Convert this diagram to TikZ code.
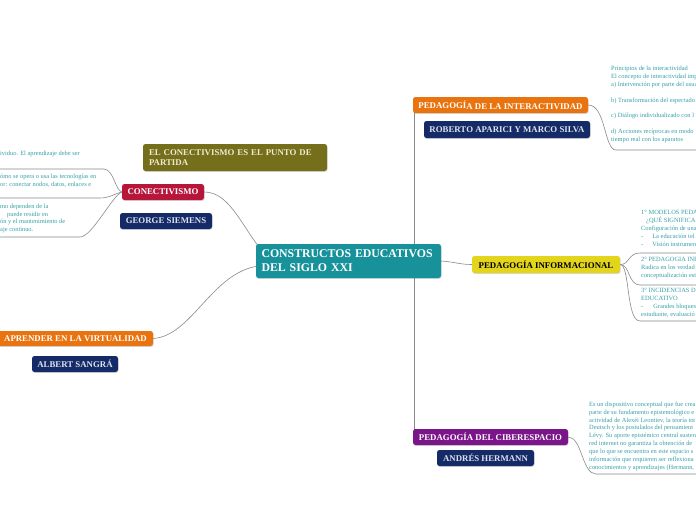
\documentclass[tikz,border=0pt]{standalone}
\usepackage{fontspec}
\setmainfont{Liberation Serif}
\usetikzlibrary{shadows,calc}
\pgfdeclarelayer{bg}
\pgfsetlayers{bg,main}
\definecolor{tealc}{HTML}{17929B}
\definecolor{orng}{HTML}{E8730F}
\definecolor{navy}{HTML}{152B68}
\definecolor{yel}{HTML}{E3D41C}
\definecolor{purp}{HTML}{7A1689}
\definecolor{crim}{HTML}{B7163B}
\definecolor{olive}{HTML}{756E1A}
\definecolor{olivetext}{HTML}{EEEBCF}
\definecolor{notec}{HTML}{35A0A8}
\definecolor{linec}{HTML}{8A8A8A}
\definecolor{navytext}{HTML}{DDE2EE}
\begin{document}
\begin{tikzpicture}[x=1pt,y=-1pt,
  topic/.style={rounded corners=2.5pt, inner sep=0pt,
    font=\bfseries\fontsize{8.8}{10}\selectfont,
    drop shadow={shadow xshift=0.6pt,shadow yshift=-0.9pt,opacity=0.3}},
  navybox/.style={topic, fill=navy, text=navytext},
  conn/.style={draw=linec, line width=0.6pt},
  note/.style={text=notec, font=\fontsize{6.4}{7.9}\selectfont, align=left,
    inner sep=0pt, anchor=north west},
]
\path[use as bounding box] (0,0) rectangle (696,520);
\clip (0,0) rectangle (696,520);

% main topics
\node[topic, fill=tealc, text=white, minimum width=185pt, minimum height=34pt,
  font=\bfseries\fontsize{11.8}{13.8}\selectfont, align=left, text width=174pt]
  (ctr) at (348.5,261) {CONSTRUCTOS EDUCATIVOS\\DEL SIGLO XXI};

\node[topic, fill=orng, text=white, minimum width=175pt, minimum height=16pt]
  (inter) at (500.5,105) {\raisebox{0.7pt}{PEDAGOGÍ}A DE LA INTERACTIVIDAD};
\node[navybox, minimum width=166pt, minimum height=17pt]
  (rob) at (507,129.5) {\raisebox{0.7pt}{ROBERT}O APARICI Y MARCO SILVA};

\node[topic, fill=yel, text=black, minimum width=148pt, minimum height=17pt]
  (inf) at (546,264.5) {PEDAGOGÍA INFORMACIONAL};

\node[topic, fill=purp, text=white, minimum width=155pt, minimum height=16pt]
  (cib) at (490.5,437) {PEDAGOGÍA DEL CIBERESPACIO};
\node[navybox, minimum width=97pt, minimum height=16pt]
  (and) at (485.5,458) {ANDRÉS HERMANN};

\node[topic, fill=crim, text=white, minimum width=82pt, minimum height=16pt]
  (con) at (163,192) {CONECTIVISMO};
\node[navybox, minimum width=92pt, minimum height=16pt]
  (geo) at (166,221) {GEORGE SIEMENS};
\node[topic, fill=olive, text=olivetext, minimum width=184pt, minimum height=27pt,
  align=left, text width=172pt]
  (oli) at (235,157.5) {EL CONECTIVISMO ES EL PUNTO DE\\PARTIDA};

\node[topic, fill=orng, text=white, minimum width=155pt, minimum height=15pt]
  (apr) at (75.5,338.5) {APRENDER EN LA VIRTUALIDAD};
\node[navybox, minimum width=86pt, minimum height=16pt]
  (alb) at (75,364) {ALBERT SANGRÁ};

% notes
\node[note] (ntr) at (611,65.8) {Principios de la interactividad\\
El concepto de interactividad imp\\
a) Intervención por parte del usua\\
\mbox{}\\
b) Transformación del espectado\\
\mbox{}\\
c) Diálogo individualizado con l\\
\mbox{}\\
d) Acciones recíprocas en modo\\
tiempo real con los aparatos};

\node[note] (ni1) at (641,210.5) {1° MODELOS PEDA\\
\hspace*{5pt}¿QUÉ SIGNIFICA\\
Configuración de una\\
-\hspace{9pt}La educación tel\\
-\hspace{9pt}Visión instrumen};
\node[note] (ni2) at (641,257.5) {2° PEDAGOGIA INF\\
Radica en los verdad\\
conceptualización est};
\node[note] (ni3) at (641,288.5) {3° INCIDENCIAS D\\
EDUCATIVO\\
-\hspace{10pt}Grandes bloques\\
estudiante, evaluació};

\node[note] (ncb) at (589,401.5) {Es un dispositivo conceptual que fue crea\\
parte de su fundamento epistemológico e\\
actividad de Alexéi Leontiev, la teoría tot\\
Deutsch y los postulados del pensamient\\
Lévy. Su aporte epistémico central susten\\
red internet no garantiza la obtención de\\
que lo que se encuentra en este espacio s\\
información que requieren ser reflexiona\\
conocimientos y aprendizajes (Hermann,};

\node[note] (nl1) at (0,150.5) {ividuo. El aprendizaje debe ser};
\node[note] (nl2) at (0,173.5) {ómo se opera o usa las tecnologías en\\
or: conectar nodos, datos, enlaces e};
\node[note] (nl3) at (0,203.5) {mo dependen de la\\
\hspace*{7pt}puede residir en\\
ón y el mantenimiento de\\
aje continuo.};

% free ends of note underlines
\coordinate (ul1) at (-5,169);
\coordinate (ul2) at (-5,198);
\coordinate (ul3) at (-5,237);
\coordinate (ur0) at (700,150);
\coordinate (ur1) at (700,253);
\coordinate (ur2) at (700,285);
\coordinate (ur3) at (700,321);
\coordinate (ur4) at (700,474);

\begin{pgfonlayer}{bg}
  \fill[white] (0,0) rectangle (696,520);
  % from central topic
  \draw[conn] (con.east) .. controls (228,192) and (240,222) .. ($(ctr.north west)+(3,3)$);
  \draw[conn] (apr.east) .. controls (192,336) and (212,272) .. ($(ctr.west)+(3,5)$);
  \draw[conn] (ctr.east) .. controls (455,262) and (460,264.5) .. (inf.west);
  \draw[conn] ($(inter.west)+(1,0)$) -- ($(ctr.center -| inter.west)+(1,0)$);
  \draw[conn] ($(cib.west)+(1,0)$) -- ($(ctr.center -| cib.west)+(1,0)$);
  % notes
  \draw[conn] (inter.east) .. controls (606,105) and (604,150) .. (616,150) -- (ur0);
  \draw[conn] (inf.east) .. controls (630,264.5) and (628,253) .. (640,253) -- (ur1);
  \draw[conn] (inf.east) .. controls (630,264.5) and (628,285) .. (640,285) -- (ur2);
  \draw[conn] (inf.east) .. controls (630,264.5) and (626,321) .. (640,321) -- (ur3);
  \draw[conn] (cib.east) .. controls (582,437) and (582,474) .. (596,474) -- (ur4);
  \draw[conn] (con.west) .. controls (115,190) and (114,170) .. (104,169) -- (ul1);
  \draw[conn] (con.west) .. controls (116,193) and (110,198) .. (100,198) -- (ul2);
  \draw[conn] (con.west) .. controls (112,196) and (92,237) .. (80,237) -- (ul3);
\end{pgfonlayer}
\end{tikzpicture}
\end{document}
